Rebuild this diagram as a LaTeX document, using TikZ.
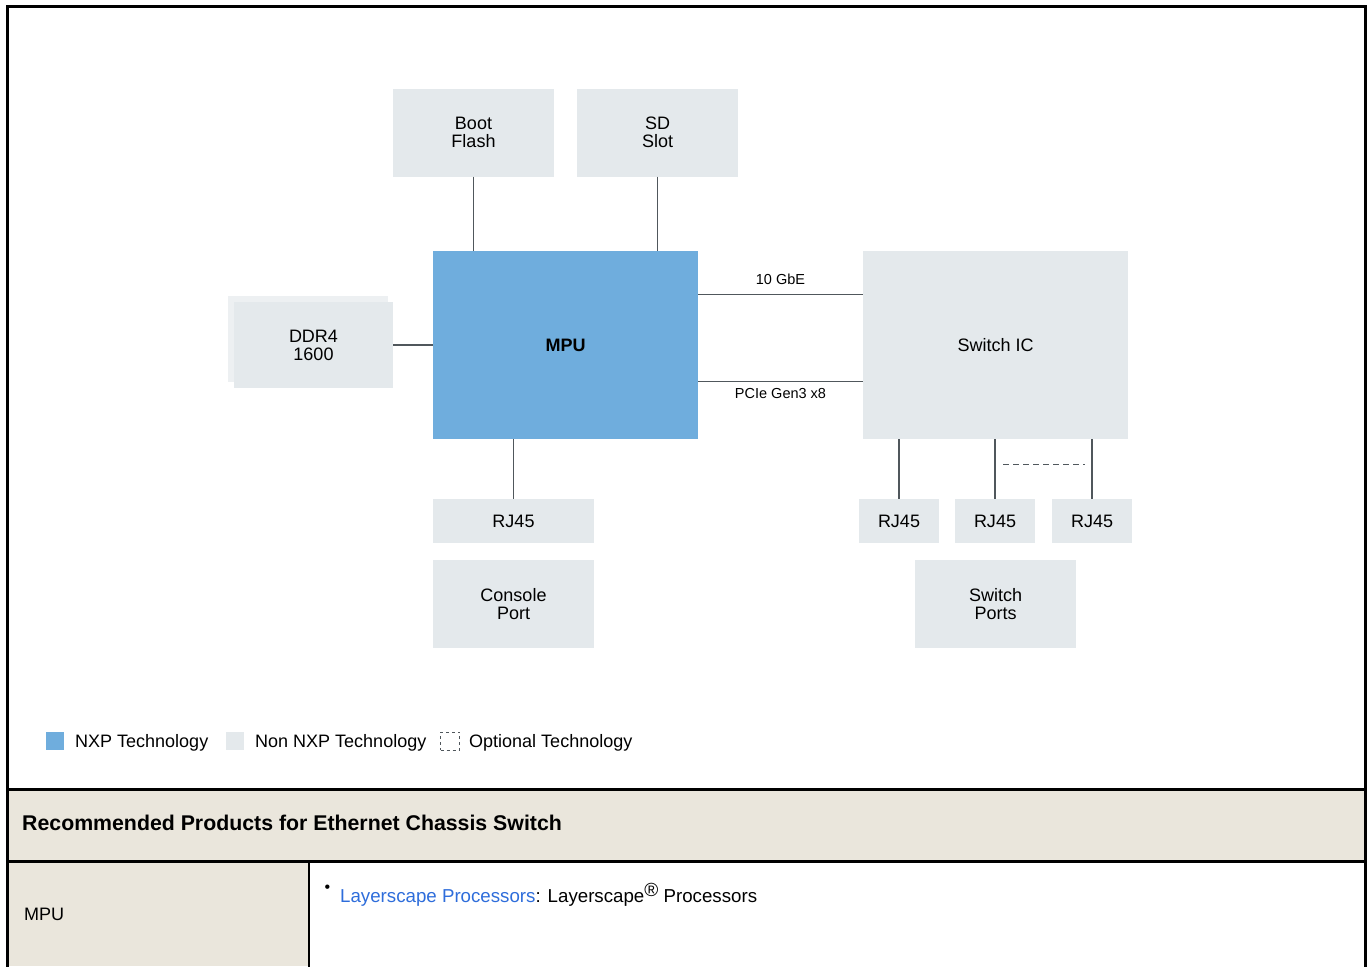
\documentclass[tikz,border=0pt]{standalone}
\usepackage{fontspec}
\setmainfont{Liberation Sans}
\usetikzlibrary{positioning}
\definecolor{nxpblue}{HTML}{6FADDD}
\definecolor{nonnxp}{HTML}{E4E9EC}
\definecolor{ddrback}{HTML}{EDF0F2}
\definecolor{wire}{HTML}{50575C}
\definecolor{tablebg}{HTML}{EAE6DC}
\definecolor{linkblue}{HTML}{2E6DDB}
\tikzset{
  blk/.style={fill=nonnxp, inner sep=0pt, align=center,
    minimum width=161pt, minimum height=88pt,
    font=\fontsize{18}{18}\selectfont},
  bigblk/.style={blk, minimum width=265pt, minimum height=188pt},
  portblk/.style={blk, minimum height=44pt},
  wire/.style={draw=wire, line width=1.2pt},
  buslabel/.style={font=\fontsize{14.5}{14.5}\selectfont, inner sep=0pt},
  legsq/.style={inner sep=0pt, minimum size=18pt},
  legtext/.style={anchor=base west, inner sep=0pt, font=\fontsize{18}{18}\selectfont},
  rule/.style={draw=black, line width=3pt}
}
\begin{document}
\begin{tikzpicture}[x=1pt, y=-1pt]
  \useasboundingbox (0,0) rectangle (1367,966);
  \fill[white] (0,0) rectangle (1367,966);

  \node[blk] (boot) at (473.5,132.5) {Boot\\Flash};
  \node[blk] (sd) at (657.5,132.5) {SD\\Slot};
  \node[bigblk, fill=nxpblue, font=\fontsize{18}{18}\selectfont\bfseries] (mpu) at (565.5,345) {MPU};
  \node[blk, fill=ddrback, minimum width=160pt, minimum height=86pt] (ddrb) at (308,339) {};
  \node[blk, minimum width=159pt, minimum height=86pt] (ddr) at (313.5,345) {DDR4\\1600};
  \node[bigblk] (swic) at (995.5,345) {Switch IC};
  \node[portblk] (rjm) at (513.5,521) {RJ45};
  \node[blk] (console) at (513.5,604) {Console\\Port};
  \node[portblk, minimum width=80pt] (rja) at (899,521) {RJ45};
  \node[portblk, minimum width=80pt] (rjb) at (995,521) {RJ45};
  \node[portblk, minimum width=80pt] (rjc) at (1092,521) {RJ45};
  \node[blk] (ports) at (995.5,604) {Switch\\Ports};

  \draw[wire] (boot.south) -- (boot.south |- mpu.north);
  \draw[wire] (sd.south) -- (sd.south |- mpu.north);
  \draw[wire] (ddr.east) -- (mpu.west);
  \draw[wire] ([yshift=-44pt]mpu.north east) -- ([yshift=-44pt]swic.north west)
    node[buslabel, midway, above=10pt] {10 GbE};
  \draw[wire] ([yshift=-131pt]mpu.north east) -- ([yshift=-131pt]swic.north west)
    node[buslabel, midway, below=6pt] {PCIe Gen3 x8};
  \draw[wire] (rjm.north) -- (rjm.north |- mpu.south);
  \draw[wire] (rja.north) -- (rja.north |- swic.south);
  \draw[wire] (rjb.north) -- (rjb.north |- swic.south);
  \draw[wire] (rjc.north) -- (rjc.north |- swic.south);
  \draw[wire, line width=1pt, dash pattern=on 6pt off 4pt]
    ([xshift=8pt, yshift=34pt]rjb.north) -- ([xshift=-7pt, yshift=34pt]rjc.north);

  \node[legsq, fill=nxpblue] (lgnxp) at (55,741) {};
  \node[legtext] (lgnxptext) at (75,747.5) {NXP Technology};
  \node[legsq, fill=nonnxp] (lgnon) at (235,741) {};
  \node[legtext] (lgnontext) at (255,747.5) {Non NXP Technology};
  \node[legsq, minimum width=19pt, draw=wire, line width=0.8pt, dash pattern=on 3pt off 3pt] (lgopt) at (450,741) {};
  \node[legtext] (lgopttext) at (469,747.5) {Optional Technology};

  \fill[tablebg] (7,789) rectangle (1365,861);
  \fill[tablebg] (7,861) rectangle (309,966);
  \draw[rule] (7,968) -- (7,7) -- (1365,7) -- (1365,968);
  \draw[rule] (7,789) -- (1365,789);
  \draw[rule] (7,861) -- (1365,861);
  \draw[line width=2.5pt] (309,861) -- (309,968);

  \node[anchor=base west, inner sep=0pt, font=\fontsize{21.3}{21.3}\selectfont\bfseries] (title) at (22,830.5)
    {Recommended Products for Ethernet Chassis Switch};
  \node[legtext] (rowname) at (24,920.5) {MPU};
  \node[anchor=center, inner sep=0pt, font=\fontsize{16}{16}\selectfont] (bullet) at (327.5,889) {\textbullet};
  \node[legtext, font=\fontsize{18.7}{18.7}\selectfont] (product) at (340,902.5)
    {\textcolor{linkblue}{Layerscape Processors}: Layerscape\raisebox{6pt}{\fontsize{19}{19}\selectfont ®} Processors};
\end{tikzpicture}
\end{document}
